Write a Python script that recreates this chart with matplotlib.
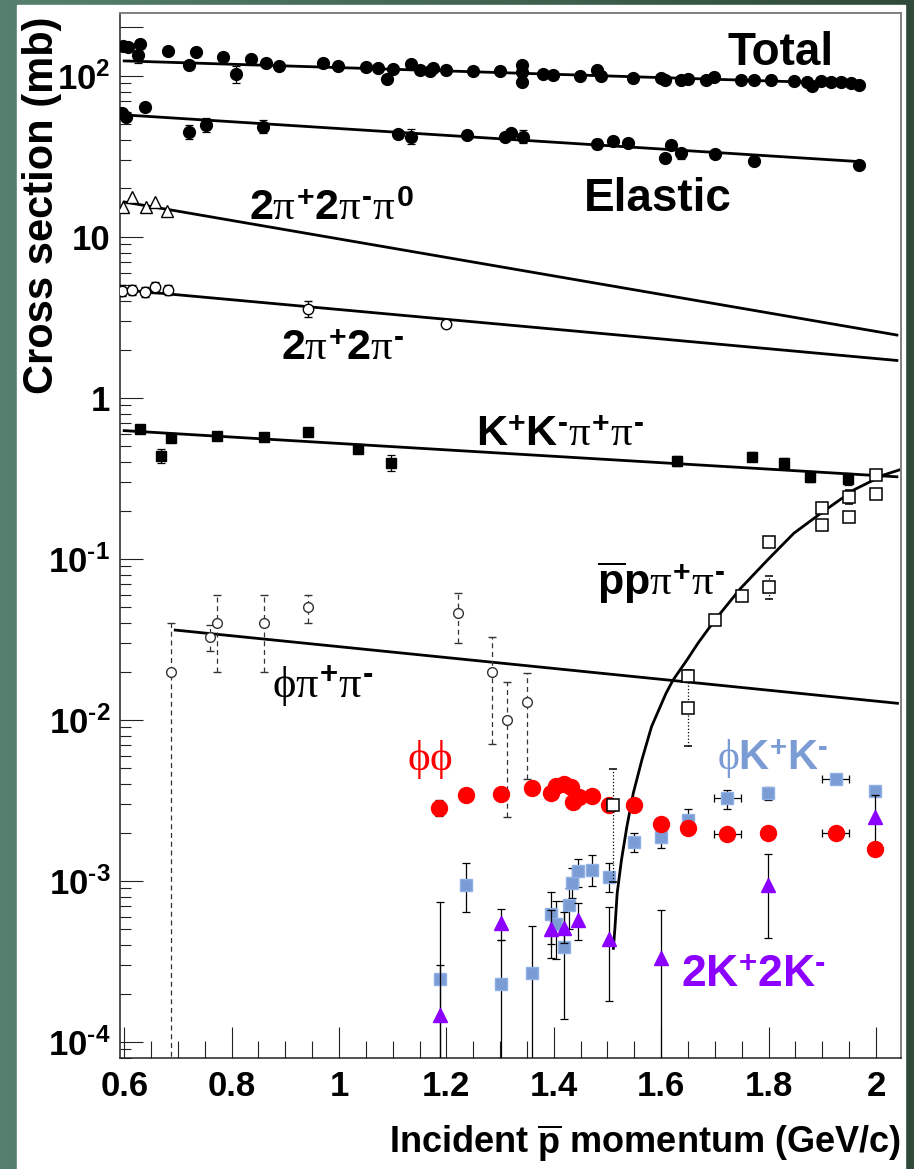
import numpy as np
import matplotlib.pyplot as plt
from matplotlib.patches import Rectangle
from matplotlib.colors import LinearSegmentedColormap
from matplotlib.ticker import FixedLocator, FixedFormatter, MultipleLocator, LogLocator, NullFormatter

plt.rcParams['font.family'] = ['Liberation Sans', 'DejaVu Sans']
plt.rcParams['font.weight'] = 'bold'
plt.rcParams['axes.labelweight'] = 'bold'
plt.rcParams['mathtext.fontset'] = 'custom'
plt.rcParams['mathtext.rm'] = 'Liberation Sans:weight=bold'
plt.rcParams['mathtext.bf'] = 'Liberation Sans:weight=bold'
plt.rcParams['mathtext.sf'] = 'Liberation Sans:weight=bold'
plt.rcParams['mathtext.it'] = 'Liberation Serif:style=normal:weight=regular'

BOTTOM = 1e-5  # error bar running off the bottom of the plot

# ---- data (p in GeV/c, sigma in mb) ----
total_p = [0.597, 0.607, 0.629, 0.626, 0.682, 0.721, 0.734, 0.784, 0.808, 0.837, 0.865, 0.888,
           0.970, 0.998, 1.050, 1.073, 1.089, 1.101, 1.134, 1.151, 1.170, 1.175, 1.199, 1.250,
           1.300, 1.341, 1.341, 1.341, 1.379, 1.399, 1.449, 1.481, 1.487, 1.548, 1.599, 1.608,
           1.636, 1.649, 1.683, 1.698, 1.748, 1.773, 1.804, 1.847, 1.872, 1.881, 1.897, 1.916,
           1.934, 1.953, 1.968]
total_s = [153.5, 152, 158, 135, 143.6, 117, 141.5, 131.8, 102.9, 127.6, 120, 115.4,
           120, 115.9, 114.2, 111.6, 95.4, 110.5, 118.8, 109, 107.4, 111.6, 109, 107.9,
           107.9, 117, 92.2, 105.9, 102.9, 101.4, 100, 109, 100, 97.6, 96.8, 94.4,
           94.4, 95.8, 94.4, 99, 94.4, 94.4, 94.4, 93.5, 92.2, 86.7, 93, 92.2,
           92.2, 90.9, 87.9]
total_err_p = [0.626, 0.808, 1.341]
total_err_lo = [120, 90.5, 90]
total_err_hi = [152, 115.4, 122]

elastic_p = [0.596, 0.603, 0.639, 0.721, 0.752, 0.858, 1.109, 1.135, 1.239, 1.310, 1.320,
             1.343, 1.481, 1.511, 1.538, 1.608, 1.619, 1.636, 1.700, 1.773, 1.968]
elastic_s = [59.1, 55.8, 63.9, 44.7, 49.7, 48.5, 43.6, 42, 43, 42, 44.1,
             42, 37.8, 39.6, 38.5, 30.8, 37.2, 33.1, 32.8, 29.8, 28.1]
elastic_err_p = [0.639, 0.721, 0.752, 0.858, 1.135, 1.343, 1.481, 1.636]
elastic_err_lo = [60.5, 40.6, 45, 44, 38, 38.5, 35.3, 30.5]
elastic_err_hi = [67, 49.6, 55, 53.5, 46.5, 46, 40.7, 35.8]

pi5_p = [0.597, 0.614, 0.640, 0.657, 0.680]
pi5_s = [15.3, 17.6, 15.3, 16.6, 14.5]

pi4_p = [0.595, 0.614, 0.639, 0.657, 0.682, 0.943, 1.199]
pi4_s = [4.64, 4.69, 4.57, 4.87, 4.69, 3.56, 2.88]
pi4_lo = [4.3, 4.35, 4.25, 4.5, 4.35, 3.18, 2.8]
pi4_hi = [5.0, 5.05, 4.9, 5.25, 5.05, 4.0, 2.96]

kkpp_p = [0.629, 0.669, 0.687, 0.772, 0.861, 0.943, 1.036, 1.096, 1.629, 1.769, 1.829, 1.878, 1.948]
kkpp_s = [0.640, 0.438, 0.562, 0.583, 0.575, 0.612, 0.480, 0.393, 0.407, 0.432, 0.396, 0.324, 0.314]
kkpp_lo = [0.62, 0.396, 0.53, 0.565, 0.557, 0.595, 0.465, 0.35, 0.38, 0.405, 0.37, 0.30, 0.29]
kkpp_hi = [0.66, 0.485, 0.60, 0.60, 0.592, 0.63, 0.495, 0.44, 0.435, 0.46, 0.425, 0.35, 0.34]

pppp_p = [1.51, 1.65, 1.65, 1.70, 1.75, 1.80, 1.80, 1.90, 1.90, 1.95, 1.95, 2.00, 2.00]
pppp_s = [2.96e-3, 0.0119, 0.01875, 0.0418, 0.0589, 0.0673, 0.128, 0.163, 0.208, 0.183, 0.244, 0.254, 0.333]
pppp_lo = [9.9e-4, 6.9e-3, 0.0185, 0.0418, 0.0589, 0.0565, 0.128, 0.163, 0.208, 0.183, 0.22, 0.254, 0.333]
pppp_hi = [4.94e-3, 0.0205, 0.019, 0.0418, 0.0589, 0.0783, 0.128, 0.163, 0.208, 0.183, 0.27, 0.254, 0.333]

phipp_p = [0.687, 0.760, 0.772, 0.861, 0.943, 1.222, 1.285, 1.312, 1.350]
phipp_s = [0.0198, 0.0327, 0.0399, 0.0399, 0.0501, 0.046, 0.01995, 0.010, 0.0129]
phipp_lo = [BOTTOM, 0.027, 0.0198, 0.0198, 0.0399, 0.0301, 0.0071, 0.00249, 0.00428]
phipp_hi = [0.0398, 0.039, 0.0597, 0.0597, 0.0597, 0.0615, 0.0329, 0.0173, 0.0196]

phiphi_p = [1.187, 1.237, 1.301, 1.360, 1.394, 1.404, 1.419, 1.432, 1.447, 1.435, 1.472,
            1.503, 1.549, 1.599, 1.649, 1.723, 1.798, 1.925, 1.999]
phiphi_s = [2.85e-3, 3.42e-3, 3.47e-3, 3.80e-3, 3.51e-3, 3.89e-3, 4.0e-3, 3.82e-3, 3.34e-3, 3.08e-3, 3.39e-3,
            2.96e-3, 2.96e-3, 2.26e-3, 2.12e-3, 1.96e-3, 2.0e-3, 2.0e-3, 1.58e-3]
phiphi_lo = [2.55e-3, 3.42e-3, 3.47e-3, 3.80e-3, 3.51e-3, 3.89e-3, 4.0e-3, 3.82e-3, 3.34e-3, 3.08e-3, 3.39e-3,
             2.96e-3, 2.96e-3, 2.1e-3, 1.95e-3, 1.85e-3, 1.9e-3, 1.9e-3, 1.45e-3]
phiphi_hi = [3.2e-3, 3.42e-3, 3.47e-3, 3.80e-3, 3.51e-3, 3.89e-3, 4.0e-3, 3.82e-3, 3.34e-3, 3.08e-3, 3.39e-3,
             2.96e-3, 2.96e-3, 2.45e-3, 2.3e-3, 2.1e-3, 2.1e-3, 2.12e-3, 1.72e-3]
phiphi_xerr = [0, 0, 0, 0, 0, 0, 0, 0, 0, 0, 0, 0, 0, 0, 0, 0.025, 0, 0.025, 0]

phikk_p = [1.188, 1.237, 1.301, 1.360, 1.394, 1.404, 1.419, 1.428, 1.434, 1.445, 1.472,
           1.503, 1.549, 1.599, 1.649, 1.723, 1.798, 1.925, 1.999]
phikk_s = [2.46e-4, 9.44e-4, 2.28e-4, 2.70e-4, 6.21e-4, 5.38e-4, 3.91e-4, 7.1e-4, 9.68e-4, 1.15e-3, 1.17e-3,
           1.06e-3, 1.75e-3, 1.88e-3, 2.39e-3, 3.29e-3, 3.53e-3, 4.28e-3, 3.63e-3]
phikk_lo = [BOTTOM, 6.44e-4, BOTTOM, BOTTOM, 3.31e-4, 3.3e-4, 1.39e-4, 5.0e-4, 7.8e-4, 9.2e-4, 9.35e-4,
            8.6e-4, 1.51e-3, 1.6e-3, 1.98e-3, 2.8e-3, 3.19e-3, 4.28e-3, 3.4e-3]
phikk_hi = [3.0e-4, 1.29e-3, 4.3e-4, 5.27e-4, 8.6e-4, 7.5e-4, 7.5e-4, 9.0e-4, 1.2e-3, 1.37e-3, 1.45e-3,
            1.29e-3, 2.0e-3, 2.17e-3, 2.8e-3, 3.67e-3, 3.82e-3, 4.28e-3, 3.9e-3]
phikk_xerr = [0, 0, 0, 0, 0, 0, 0, 0, 0, 0, 0, 0, 0, 0, 0, 0.025, 0, 0.025, 0]

kkkk_p = [1.188, 1.301, 1.394, 1.419, 1.445, 1.503, 1.599, 1.798, 1.999]
kkkk_s = [1.47e-4, 5.46e-4, 5.0e-4, 5.08e-4, 5.73e-4, 4.37e-4, 3.34e-4, 9.44e-4, 2.5e-3]
kkkk_lo = [BOTTOM, 4.3e-4, 4.05e-4, 4.1e-4, 4.3e-4, 1.8e-4, BOTTOM, 4.4e-4, 1.7e-3]
kkkk_hi = [7.45e-4, 6.7e-4, 6.6e-4, 6.4e-4, 7.3e-4, 6.9e-4, 6.6e-4, 1.47e-3, 3.4e-3]

# fitted curves
fit_total_p, fit_total_s = [0.600, 1.974], [124, 89.3]
fit_elastic_p, fit_elastic_s = [0.600, 1.974], [57.3, 29.3]
fit_pi5_p, fit_pi5_s = [0.600, 2.039], [16.5, 2.46]
fit_pi4_p, fit_pi4_s = [0.600, 2.039], [4.69, 1.71]
fit_kkpp_p, fit_kkpp_s = [0.600, 2.039], [0.627, 0.324]
fit_phipp_p, fit_phipp_s = [0.695, 2.040], [0.0362, 0.0127]
fit_pppp_p = [1.511, 1.514, 1.518, 1.526, 1.536, 1.548, 1.564, 1.582, 1.609, 1.622, 1.648,
              1.6685, 1.700, 1.748, 1.798, 1.847, 1.897, 1.959, 2.015, 2.043]
fit_pppp_s = [3.82e-4, 5.2e-4, 8.4e-4, 1.35e-3, 2.17e-3, 3.51e-3, 5.65e-3, 9.1e-3, 0.01465, 0.0177, 0.0236,
              0.030, 0.0418, 0.0658, 0.0986, 0.1445, 0.192, 0.269, 0.333, 0.357]

x_ticks = [0.6, 0.8, 1.0, 1.2, 1.4, 1.6, 1.8, 2.0]
x_labels = ['0.6', '0.8', '1', '1.2', '1.4', '1.6', '1.8', '2']
y_ticks = [1e-4, 1e-3, 1e-2, 1e-1, 1, 10, 100, 200]
y_labels = [r'$\mathrm{10^{\text{-}4}}$', r'$\mathrm{10^{\text{-}3}}$', r'$\mathrm{10^{\text{-}2}}$',
            r'$\mathrm{10^{\text{-}1}}$', '1', '10', r'$\mathrm{10^{2}}$', '']

# ---- figure ----
fig = plt.figure(figsize=(9.14, 11.69), dpi=100)

bg = fig.add_axes([0, 0, 1, 1], zorder=-2)
grad = np.linspace(0, 1, 256)[None, :]
cm_bg = LinearSegmentedColormap.from_list('bg', ['#56806e', '#426653', '#2f4a38'])
bg.imshow(grad, cmap=cm_bg, aspect='auto', extent=[0, 1, 0, 1])
bg.add_patch(Rectangle((17 / 914, 0), 888 / 914, 1164 / 1169, color='white', transform=bg.transAxes))
bg.set_xlim(0, 1)
bg.set_ylim(0, 1)
bg.axis('off')

ax = fig.add_axes([120 / 914, 1 - 1058 / 1169, 780.7 / 914, 1045 / 1169])
ax.set_facecolor('white')
ax.set_yscale('log')
ax.set_xlim(0.5922, 2.046)
ax.set_ylim(7.96e-5, 246)

LW = 2.0
ax.plot(fit_total_p, fit_total_s, color='black', lw=LW, zorder=2)
ax.plot(fit_elastic_p, fit_elastic_s, color='black', lw=LW, zorder=2)
ax.plot(fit_pi5_p, fit_pi5_s, color='black', lw=LW, zorder=2)
ax.plot(fit_pi4_p, fit_pi4_s, color='black', lw=LW, zorder=2)
ax.plot(fit_kkpp_p, fit_kkpp_s, color='black', lw=LW, zorder=2)
ax.plot(fit_phipp_p, fit_phipp_s, color='black', lw=LW, zorder=2)
ax.plot(fit_pppp_p, fit_pppp_s, color='black', lw=LW, zorder=2)


def yerr(s, lo, hi):
    s = np.array(s)
    return [s - np.array(lo), np.array(hi) - s]


def mid(lo, hi):
    return [np.sqrt(a * b) for a, b in zip(lo, hi)]


ebkw = dict(ecolor='black', elinewidth=0.9, capsize=3, capthick=0.9)

# total & elastic
m = mid(total_err_lo, total_err_hi)
ax.errorbar(total_err_p, m, yerr=yerr(m, total_err_lo, total_err_hi), fmt='none', zorder=3, **ebkw)
ax.plot(total_p, total_s, 'o', color='black', ms=8.5, zorder=4)
m = mid(elastic_err_lo, elastic_err_hi)
ax.errorbar(elastic_err_p, m, yerr=yerr(m, elastic_err_lo, elastic_err_hi), fmt='none', zorder=3, **ebkw)
ax.plot(elastic_p, elastic_s, 'o', color='black', ms=8.5, zorder=4)

# 2pi+2pi-pi0 and 2pi+2pi-
ax.plot(pi5_p, pi5_s, '^', mfc='white', mec='black', mew=1.0, ms=8.5, zorder=4)
ax.errorbar(pi4_p, pi4_s, yerr=yerr(pi4_s, pi4_lo, pi4_hi), fmt='o', mfc='white', mec='black',
            mew=1.0, ms=7.5, zorder=4, **ebkw)

# K+K-pi+pi-
ax.errorbar(kkpp_p, kkpp_s, yerr=yerr(kkpp_s, kkpp_lo, kkpp_hi), fmt='s', color='black',
            ms=7, zorder=4, **ebkw)

# pbar p pi+ pi-
eb = ax.errorbar(pppp_p, pppp_s, yerr=yerr(pppp_s, pppp_lo, pppp_hi), fmt='s', mfc='white',
                 mec='black', mew=1.1, ms=8.5, zorder=6, **ebkw)
eb[2][0].set_linestyle(':')

# phi pi+ pi-
eb = ax.errorbar(phipp_p, phipp_s, yerr=yerr(phipp_s, phipp_lo, phipp_hi), fmt='o', mfc='white',
                 mec='#333333', mew=1.0, ms=7, zorder=4, ecolor='#333333', elinewidth=0.9,
                 capsize=3, capthick=0.9)
eb[2][0].set_linestyle((0, (4, 3)))

# phi K+ K-
ax.errorbar(phikk_p, phikk_s, yerr=yerr(phikk_s, phikk_lo, phikk_hi), xerr=phikk_xerr, fmt='s',
            color='#7b9bd4', mec='#8fb0e6', ms=8.5, zorder=4, **ebkw)

# phi phi
ax.errorbar(phiphi_p, phiphi_s, yerr=yerr(phiphi_s, phiphi_lo, phiphi_hi), xerr=phiphi_xerr, fmt='o',
            color='#ff0000', ms=11.5, zorder=5, **ebkw)

# 2K+ 2K-
ax.errorbar(kkkk_p, kkkk_s, yerr=yerr(kkkk_s, kkkk_lo, kkkk_hi), fmt='^', color='#8b00ff',
            ms=9.5, zorder=5, **ebkw)

# ---- labels on curves ----
H = r'\text{-}'
ax.text(1.7244, 117, 'Total', fontsize=33, ha='left', va='baseline', color='black')
ax.text(1.456, 14.4, 'Elastic', fontsize=33, ha='left', va='baseline', color='black')
ax.text(0.8324, 12.8, r'$2\pi^{+}2\pi^{%s}\pi^{0}$' % H, fontsize=31, ha='left', va='baseline')
ax.text(0.892, 1.72, r'$2\pi^{+}2\pi^{%s}$' % H, fontsize=31, ha='left', va='baseline')
ax.text(1.2546, 0.506, r'$\mathrm{K}^{+}\mathrm{K}^{%s}\pi^{+}\pi^{%s}$' % (H, H), fontsize=31,
        ha='left', va='baseline')
ax.text(1.481, 0.0597, r'$\overline{\mathrm{p}}\mathrm{p}\pi^{+}\pi^{%s}$' % H, fontsize=31,
        ha='left', va='baseline')
ax.text(0.8747, 0.0137, r'$\phi\pi^{+}\pi^{%s}$' % H, fontsize=32, ha='left', va='baseline')
ax.text(1.126, 4.89e-3, r'$\phi\phi$', fontsize=31, ha='left', va='baseline', color='#ff0000')
ax.text(1.7045, 4.89e-3, r'$\phi\mathrm{K}^{+}\mathrm{K}^{%s}$' % H, fontsize=30, ha='left',
        va='baseline', color='#7b9bd4')
ax.text(1.636, 2.2e-4, r'$2\mathrm{K}^{+}2\mathrm{K}^{%s}$' % H, fontsize=32, ha='left',
        va='baseline', color='#8b00ff')

# ---- axes styling ----
ax.xaxis.set_major_locator(FixedLocator(x_ticks))
ax.xaxis.set_major_formatter(FixedFormatter(x_labels))
ax.xaxis.set_minor_locator(MultipleLocator(0.05))
ax.yaxis.set_major_locator(FixedLocator(y_ticks))
ax.yaxis.set_major_formatter(FixedFormatter(y_labels))
ax.yaxis.set_minor_locator(LogLocator(base=10, subs=np.arange(2, 10), numticks=20))
ax.yaxis.set_minor_formatter(NullFormatter())

ax.tick_params(axis='both', which='both', direction='in', color='#222222', width=0.8,
               labelsize=25)
ax.tick_params(axis='x', which='major', length=22, pad=9)
ax.tick_params(axis='x', which='minor', length=12)
ax.tick_params(axis='y', which='major', length=16.5, pad=7)
ax.tick_params(axis='y', which='minor', length=8)

for side in ['left', 'bottom']:
    ax.spines[side].set_color('#222222')
    ax.spines[side].set_linewidth(1.1)
for side in ['top', 'right']:
    ax.spines[side].set_color('#808080')
    ax.spines[side].set_linewidth(1.4)

ax.set_xlabel(r'Incident $\overline{\mathrm{p}}$ momentum (GeV/c)', fontsize=26,
              fontweight='bold', loc='right')
ax.xaxis.set_label_coords(1.0, -0.0813)
ax.xaxis.label.set_va('center')
ax.set_ylabel('Cross section (mb)', fontsize=30, fontweight='bold')
ax.yaxis.set_label_coords(-0.1, 0.816)
ax.yaxis.label.set_va('center')
ax.yaxis.label.set_ha('center')

fig.savefig('out.png', dpi=100)
